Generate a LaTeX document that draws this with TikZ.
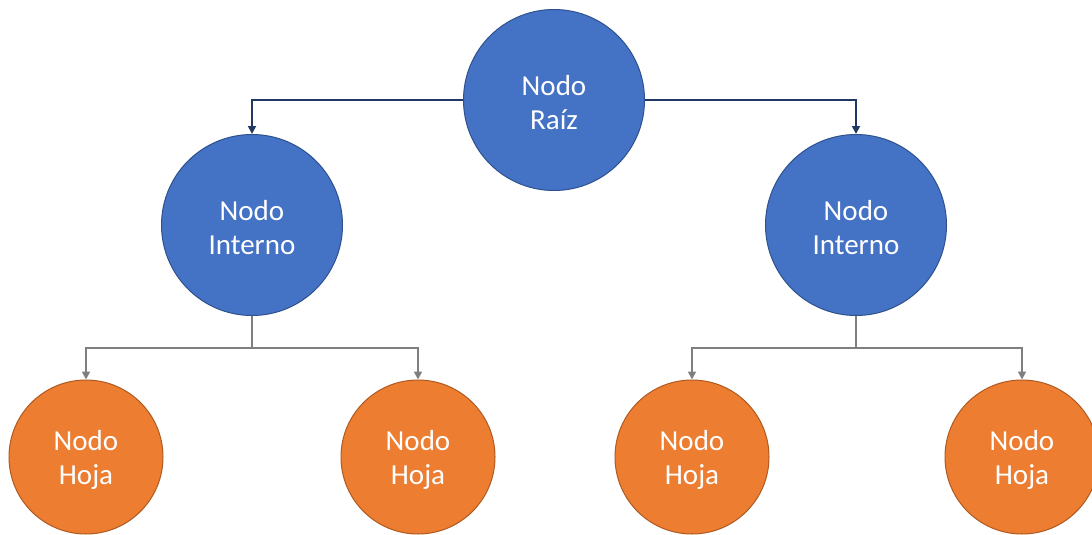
\documentclass[tikz,border=0pt]{standalone}
\usepackage{fontspec}
\setmainfont{Carlito}
\usetikzlibrary{arrows.meta}
\definecolor{nodeblue}{HTML}{4472C4}
\definecolor{blueedge}{HTML}{2F528F}
\definecolor{leaforange}{HTML}{ED7D31}
\definecolor{orangeedge}{HTML}{AE5A21}
\definecolor{topline}{HTML}{203864}
\definecolor{lowline}{HTML}{7F7F7F}
\begin{document}
\begin{tikzpicture}[x=1pt,y=-1pt,
  bubble/.style={circle, inner sep=0pt, line width=1pt},
  inner/.style={bubble, minimum size=181pt, fill=nodeblue, draw=blueedge},
  leaf/.style={bubble, minimum size=154pt, fill=leaforange, draw=orangeedge},
  caption/.style={text=white, font=\fontsize{29}{34}\selectfont,
    align=center, inner sep=0pt},
  toplink/.style={draw=topline, line width=1.8pt,
    -{Triangle[width=8pt,length=8pt]}},
  lowlink/.style={draw=lowline, line width=1.8pt,
    -{Triangle[width=8pt,length=8pt]}}]
\useasboundingbox (0,0) rectangle (1092,535);
\begin{scope}
\clip (0,0) rectangle (1092,535);
% tree nodes
\node[inner] (root) at (554,100) {};
\node[inner] (left) at (252,225) {};
\node[inner] (right) at (856,225) {};
\node[leaf] (l1) at (86,457) {};
\node[leaf] (l2) at (418,457) {};
\node[leaf] (l3) at (692,457) {};
\node[leaf] (l4) at (1022,457) {};
% captions, set a little below each centre
\node[caption] (root-t) at ([yshift=-3pt]root.center) {Nodo\\Raíz};
\node[caption] (left-t) at ([yshift=-3pt]left.center) {Nodo\\Interno};
\node[caption] (right-t) at ([yshift=-3pt]right.center) {Nodo\\Interno};
\foreach \n in {l1,l2,l3,l4}
  \node[caption] (\n-t) at ([yshift=-3pt]\n.center) {Nodo\\Hoja};
% root to internal nodes
\draw[toplink] (root.west) -| (left.north);
\draw[toplink] (root.east) -| (right.north);
% internal nodes to leaves
\coordinate (lj) at (252,348);
\coordinate (rj) at (856,348);
\draw[lowline, line width=1.8pt] (left.south) -- (lj);
\draw[lowline, line width=1.8pt] (right.south) -- (rj);
\draw[lowlink] (lj) -| (l1.north);
\draw[lowlink] (lj) -| (l2.north);
\draw[lowlink] (rj) -| (l3.north);
\draw[lowlink] (rj) -| (l4.north);
\end{scope}
\end{tikzpicture}
\end{document}
